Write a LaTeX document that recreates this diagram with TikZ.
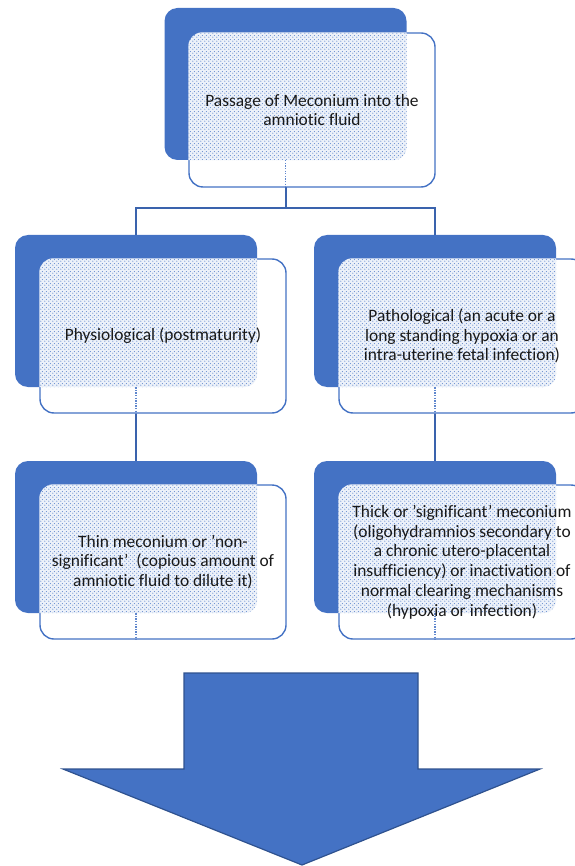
\documentclass[tikz,border=0pt]{standalone}
\usepackage{fontspec}
\setmainfont{Carlito}[Ligatures={NoCommon}]
\usetikzlibrary{patterns}
\definecolor{acc}{HTML}{4472C4}
\definecolor{linec}{HTML}{3A63AD}
\definecolor{arrowedge}{HTML}{2F528F}
\newcommand{\sq}{{\char"27}}
\pgfdeclarepatternformonly{sparsedots}{\pgfpointorigin}{\pgfqpoint{4pt}{4pt}}{\pgfqpoint{4pt}{4pt}}{%
  \pgfpathcircle{\pgfqpoint{1pt}{1pt}}{0.7pt}%
  \pgfpathcircle{\pgfqpoint{3pt}{3pt}}{0.7pt}%
  \pgfusepath{fill}}
\begin{document}
\begin{tikzpicture}[x=1pt,y=-1pt,
  back/.style={fill=acc, rounded corners=13pt, minimum width=242pt, minimum height=152pt, inner sep=0pt},
  front/.style={fill=white, draw=acc, line width=1.4pt, rounded corners=14pt, minimum width=246pt, minimum height=154pt, inner sep=0pt},
  label/.style={align=center, font=\fontsize{17.4}{19.8}\selectfont, text=black!90, inner sep=0pt},
  conn/.style={draw=linec, line width=2pt},
  ghost/.style={draw=acc!85, line width=1.3pt, dash pattern=on 1.3pt off 1.3pt},
  dots/.style={pattern=sparsedots, pattern color=acc!80},
  bigarrow/.style={fill=acc, draw=arrowedge, line width=1.2pt, line join=miter}]
\useasboundingbox (0,0) rectangle (574,866);
% back boxes
\node[back] (b1) at (285.5,84) {};
\node[back] (b2) at (136,311) {};
\node[back] (b3) at (435,311) {};
\node[back] (b4) at (136,537) {};
\node[back] (b5) at (435,537) {};
% connectors
\draw[conn] (285.5,187) -- (285.5,208) coordinate (j) -| (b2.north);
\draw[conn] (j) -| (b3.north);
\draw[conn] (136,413) -- (b4.north);
\draw[conn] (435,413) -- (b5.north);
% front boxes
\node[front] (f1) at (312,110) {};
\node[front] (f2) at (163,336) {};
\node[front] (f3) at (462,336) {};
\node[front] (f4) at (163,562) {};
\node[front] (f5) at (462,562) {};
% overlap patterns
\foreach \b/\f in {b1/f1,b2/f2,b3/f3,b4/f4,b5/f5}{
  \begin{scope}
    \clip[rounded corners=13pt] (\b.north west) rectangle (\b.south east);
    \fill[acc!10, rounded corners=14pt] (\f.north west) rectangle (\f.south east);
    \fill[dots, rounded corners=14pt] (\f.north west) rectangle (\f.south east);
  \end{scope}
  \draw[ghost] (\b.south) -- (\b.south |- \f.south);
}
% labels
\node[label] (t1) at (f1) {Passage of Meconium into the\\amniotic fluid};
\node[label] (t2) at (f2) {Physiological (postmaturity)};
\node[label] (t3) at (f3) {Pathological (an acute or a\\long standing hypoxia or an\\intra-uterine fetal infection)};
\node[label] (t4) at (f4) {Thin meconium or \sq non-\\significant\sq\ \ (copious amount of\\amniotic fluid to dilute it)};
\node[label] (t5) at (f5) {Thick or \sq significant\sq\ meconium\\(oligohydramnios secondary to\\a chronic utero-placental\\insufficiency) or inactivation of\\normal clearing mechanisms\\(hypoxia or infection)};
% big arrow
\draw[bigarrow] (184,673) -- (418,673) -- (418,769) -- (540,769) -- (302,865) -- (63,769) -- (184,769) -- cycle;
\end{tikzpicture}
\end{document}
